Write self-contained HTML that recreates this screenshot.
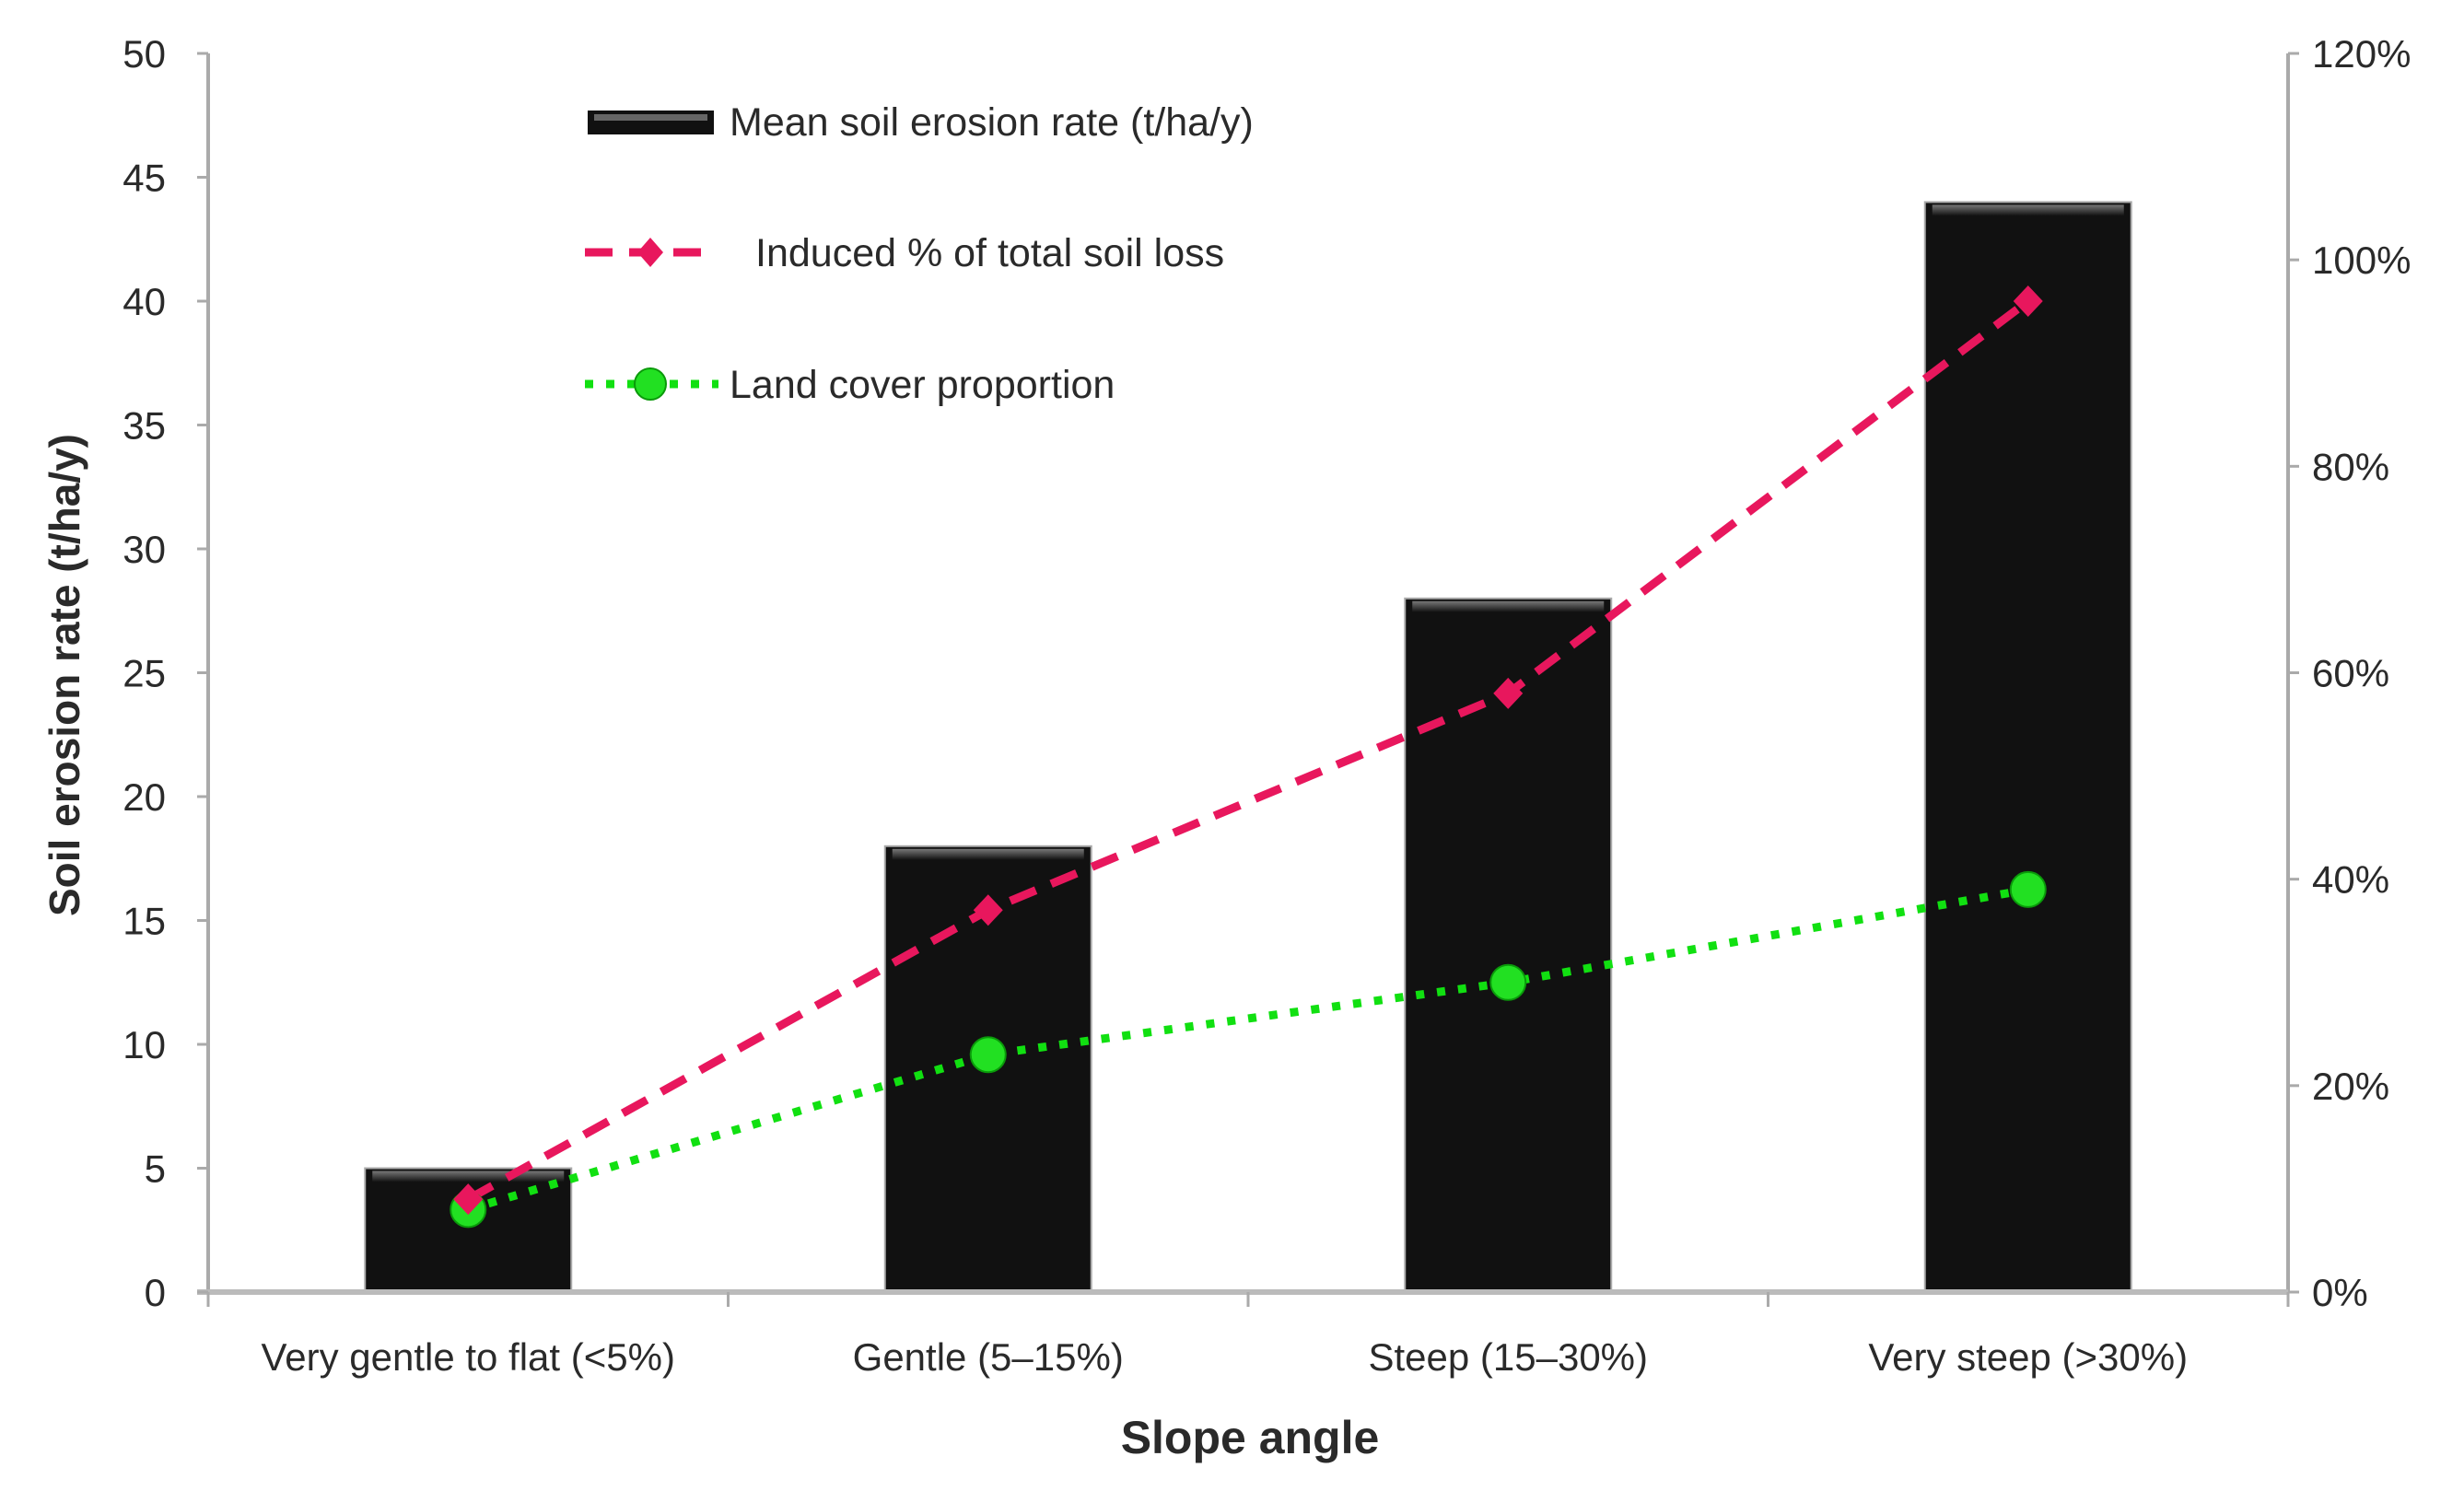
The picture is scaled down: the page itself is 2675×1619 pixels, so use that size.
<!DOCTYPE html>
<html><head><meta charset="utf-8"><style>
html,body{margin:0;padding:0;background:#fff}
svg{display:block}
text{font-family:"Liberation Sans",sans-serif;fill:#2a2a2a}
</style></head><body>
<svg id="chart" width="2675" height="1619" viewBox="0 0 2675 1619">
<defs>
<linearGradient id="barTop" x1="0" y1="0" x2="0" y2="1">
<stop offset="0" stop-color="#777"/><stop offset="1" stop-color="#111"/>
</linearGradient>
</defs>
<g id="bars"></g>
<g id="axes"></g>
<g id="lines"></g>
<g>
<g>
<rect x="638" y="120" width="137" height="26" fill="#111"/>
<rect x="645" y="124" width="123" height="7" fill="#666"/>
<text x="792" y="147" font-size="43">Mean soil erosion rate (t/ha/y)</text>
</g>
<g>
<line x1="635" y1="274" x2="778" y2="274" stroke="#e8175d" stroke-width="9" stroke-dasharray="30,18"/>
<path d="M706 258 L720 274 L706 290 L692 274 Z" fill="#e8175d"/>
<text x="820" y="289" font-size="43">Induced % of total soil loss</text>
</g>
<g>
<line x1="635" y1="417" x2="780" y2="417" stroke="#11e011" stroke-width="9" stroke-dasharray="9,14"/>
<circle cx="706" cy="417" r="17" fill="#22e022" stroke="#0a9a0a" stroke-width="2"/>
<text x="792" y="432" font-size="43">Land cover proportion</text>
</g>
</g>
<text x="1357" y="1578" font-size="50" font-weight="bold" text-anchor="middle">Slope angle</text>
<text transform="translate(86,733) rotate(-90)" font-size="46" font-weight="bold" text-anchor="middle">Soil erosion rate (t/ha/y)</text>
</svg>
<script>
const categories = ["Very gentle to flat (<5%)", "Gentle (5\u201315%)", "Steep (15\u201330%)", "Very steep (>30%)"];
const erosionRate = [5, 18, 28, 44];
const inducedPct = [9, 37, 58, 96];
const landCoverPct = [8, 23, 30, 39];
const leftTicks = [0, 5, 10, 15, 20, 25, 30, 35, 40, 45, 50];
const rightTicks = [0, 20, 40, 60, 80, 100, 120];

const NS = "http://www.w3.org/2000/svg";
const X0 = 226, X1 = 2484, Y0 = 1403, Y1 = 58;
const catW = (X1 - X0) / categories.length;
function xC(i){ return X0 + catW * (i + 0.5); }
function yL(v){ return Y0 - (v / 50) * (Y0 - Y1); }
function yR(v){ return Y0 - (v / 120) * (Y0 - Y1); }
function mk(tag, attrs, parent){
  const e = document.createElementNS(NS, tag);
  for (const k in attrs) e.setAttribute(k, attrs[k]);
  parent.appendChild(e); return e;
}
const bars = document.getElementById('bars');
const axes = document.getElementById('axes');
const lines = document.getElementById('lines');
const barW = 224;
erosionRate.forEach((v, i) => {
  const x = xC(i) - barW / 2, y = yL(v);
  const r = mk('rect', {x: x, y: y, width: barW, height: Y0 - y, fill: '#111', stroke: '#aaa', 'stroke-width': 2}, bars);
  
  
  const h = mk('rect', {x: x + 8, y: y + 3, width: barW - 16, height: 12, fill: 'url(#barTop)'}, bars);
  
  
});
let a = mk('line', {x1: X0, y1: Y1, x2: X0, y2: Y0, stroke: '#aaa', 'stroke-width': 4}, axes);


a = mk('line', {x1: X1, y1: Y1, x2: X1, y2: Y0, stroke: '#aaa', 'stroke-width': 4}, axes);


a = mk('line', {x1: X0 - 12, y1: Y0, x2: X1, y2: Y0, stroke: '#bbb', 'stroke-width': 6}, axes);


leftTicks.forEach(v => {
  const y = yL(v);
  const t = mk('line', {x1: X0 - 12, y1: y, x2: X0, y2: y, stroke: '#aaa', 'stroke-width': 3}, axes);
  
  
  const l = mk('text', {x: 180, y: y + 15, 'font-size': 42, 'text-anchor': 'end'}, axes);
  l.textContent = v;
  
  
});
rightTicks.forEach(v => {
  const y = yR(v);
  const t = mk('line', {x1: X1, y1: y, x2: X1 + 12, y2: y, stroke: '#aaa', 'stroke-width': 3}, axes);
  
  
  const l = mk('text', {x: 2510, y: y + 15, 'font-size': 42}, axes);
  l.textContent = v + '%';
  
  
});
for (let i = 0; i <= categories.length; i++) {
  const x = X0 + catW * i;
  const t = mk('line', {x1: x, y1: Y0, x2: x, y2: Y0 + 16, stroke: '#aaa', 'stroke-width': 3}, axes);
  
  
}
categories.forEach((c, i) => {
  const l = mk('text', {x: xC(i), y: 1488, 'font-size': 42, 'text-anchor': 'middle'}, axes);
  l.textContent = c;
  
  
});
const gPts = landCoverPct.map((v, i) => xC(i) + ',' + yR(v)).join(' ');
let pl = mk('polyline', {points: gPts, fill: 'none', stroke: '#11e011', 'stroke-width': 9, 'stroke-dasharray': '9,14'}, lines);


const pPts = inducedPct.map((v, i) => xC(i) + ',' + yR(v)).join(' ');
pl = mk('polyline', {points: pPts, fill: 'none', stroke: '#e8175d', 'stroke-width': 9, 'stroke-dasharray': '30,18'}, lines);


landCoverPct.forEach((v, i) => {
  const c = mk('circle', {cx: xC(i), cy: yR(v), r: 19, fill: '#22e022', stroke: '#0a9a0a', 'stroke-width': 2}, lines);
  
  
});
inducedPct.forEach((v, i) => {
  const x = xC(i), y = yR(v);
  const d = mk('path', {d: `M${x} ${y-17} L${x+16} ${y} L${x} ${y+17} L${x-16} ${y} Z`, fill: '#e8175d'}, lines);
  
  
});
</script>
</body></html>
